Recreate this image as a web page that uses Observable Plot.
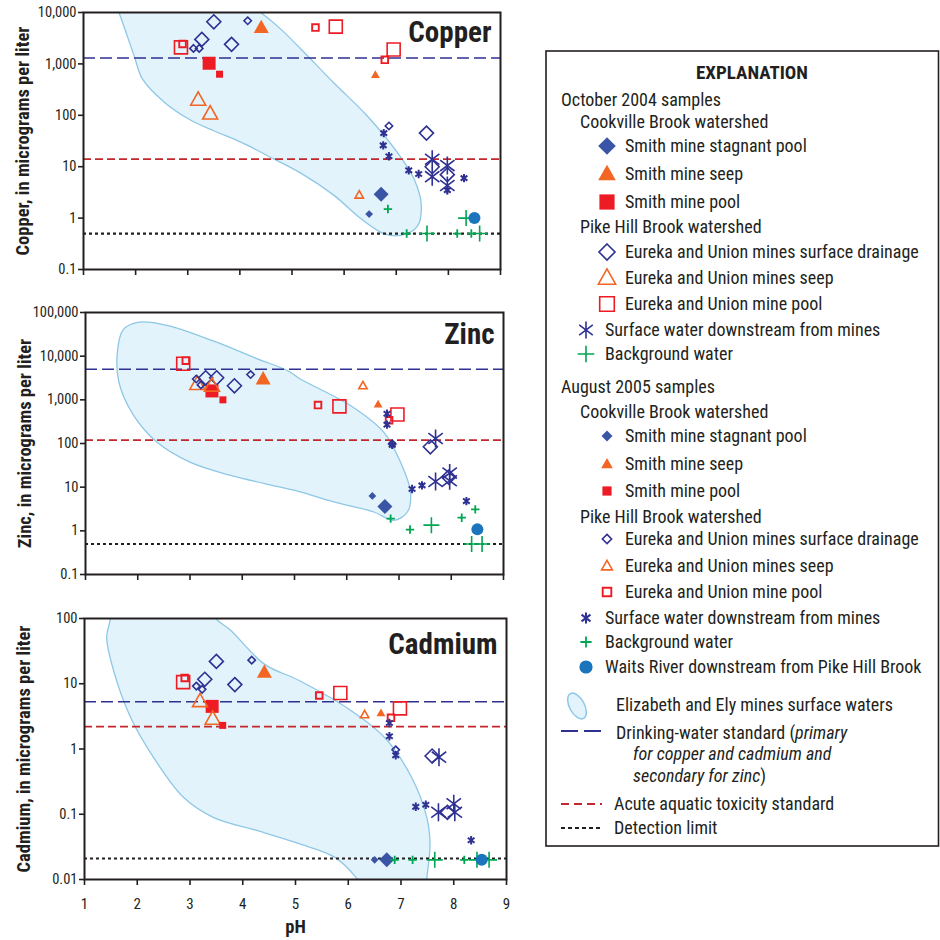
<!DOCTYPE html>
<html><head><meta charset="utf-8">
<script src="https://cdn.jsdelivr.net/npm/d3@7"></script>
<script src="https://cdn.jsdelivr.net/npm/@observablehq/plot@0.6"></script>
<style>
html,body{margin:0;padding:0;background:#fff;}
#wrap{position:relative;width:940px;height:940px;overflow:hidden;background:#fff;}
#wrap svg.panel{position:absolute;left:0;}
g[aria-label="y-axis label"] text, g[aria-label="x-axis label"] text{font-weight:bold;font-size:18.5px;}
</style></head><body><div id="wrap"></div>
<script>
// ---------------- DATA ----------------
// points: [pH, value, sample type]
const copperPoints = [
  [2.87,2100,"O-epool"],[5.84,5300,"O-epool"],[6.95,1900,"O-epool"],
  [3.27,3000,"O-drain"],[3.50,6600,"O-drain"],[3.84,2400,"O-drain"],[7.58,45,"O-drain"],[7.69,10,"O-drain"],[7.98,7,"O-drain"],
  [4.41,5100,"O-seep"],[3.41,1030,"O-pool"],
  [3.20,200,"O-eseep"],[3.43,108,"O-eseep"],
  [6.71,2.9,"O-stag"],
  [7.69,14,"O-sw"],[7.69,6.4,"O-sw"],[7.98,10.5,"O-sw"],[7.98,4.3,"O-sw"],
  [8.34,1.0,"O-bg"],[7.59,0.5,"O-bg"],[8.60,0.5,"O-bg"],
  [2.90,2450,"A-epool"],[5.45,5100,"A-epool"],[6.78,1200,"A-epool"],
  [3.11,2000,"A-drain"],[3.22,2000,"A-drain"],[4.15,6900,"A-drain"],[6.86,62,"A-drain"],
  [6.60,610,"A-seep"],[3.61,630,"A-pool"],[6.29,2.8,"A-eseep"],[6.48,1.2,"A-stag"],
  [6.76,45,"A-sw"],[6.75,26,"A-sw"],[6.86,16,"A-sw"],[7.24,8.5,"A-sw"],[7.43,7.2,"A-sw"],[7.98,3.5,"A-sw"],[8.30,6.0,"A-sw"],
  [6.84,1.5,"A-bg"],[7.20,0.5,"A-bg"],[8.17,0.5,"A-bg"],[8.44,0.5,"A-bg"],
  [8.50,1.0,"A-waits"]
];
const zincPoints = [
  [2.87,6700,"O-epool"],[5.86,710,"O-epool"],[6.97,460,"O-epool"],
  [3.30,3200,"O-drain"],[3.51,3200,"O-drain"],[3.85,2100,"O-drain"],[7.60,84,"O-drain"],[7.95,17,"O-drain"],
  [4.40,3000,"O-seep"],[3.42,1600,"O-pool"],
  [3.14,2300,"O-eseep"],[3.42,2100,"O-eseep"],
  [6.73,3.6,"O-stag"],
  [7.70,130,"O-sw"],[7.70,13.5,"O-sw"],[7.97,21,"O-sw"],[7.97,14,"O-sw"],
  [7.62,1.35,"O-bg"],[8.39,0.5,"O-bg"],[8.59,0.5,"O-bg"],
  [2.92,7900,"A-epool"],[5.45,760,"A-epool"],[6.81,340,"A-epool"],
  [3.12,3000,"A-drain"],[3.21,2200,"A-drain"],[4.16,3800,"A-drain"],[6.87,98,"A-drain"],
  [6.60,790,"A-seep"],[3.63,1000,"A-pool"],[6.31,2100,"A-eseep"],[6.49,6.3,"A-stag"],
  [6.77,480,"A-sw"],[6.77,270,"A-sw"],[6.87,93,"A-sw"],[7.25,9.1,"A-sw"],[7.44,11,"A-sw"],[8.29,4.8,"A-sw"],
  [6.84,1.9,"A-bg"],[7.21,1.07,"A-bg"],[8.20,2.0,"A-bg"],[8.46,3.1,"A-bg"],
  [8.50,1.08,"A-waits"]
];
const cadmiumPoints = [
  [2.87,10.6,"O-epool"],[5.85,7.2,"O-epool"],[6.98,4.2,"O-epool"],
  [3.28,11.7,"O-drain"],[3.50,22,"O-drain"],[3.85,9.7,"O-drain"],[7.59,0.78,"O-drain"],[7.88,0.107,"O-drain"],
  [4.41,15,"O-seep"],[3.42,4.5,"O-pool"],
  [3.19,5.4,"O-eseep"],[3.43,2.9,"O-eseep"],
  [6.73,0.02,"O-stag"],
  [7.72,0.75,"O-sw"],[7.71,0.107,"O-sw"],[8.00,0.145,"O-sw"],[8.02,0.107,"O-sw"],
  [7.64,0.02,"O-bg"],[8.44,0.02,"O-bg"],[8.67,0.02,"O-bg"],
  [2.90,12.3,"A-epool"],[5.45,6.6,"A-epool"],[6.81,3.0,"A-epool"],
  [3.12,9.2,"A-drain"],[3.23,8.2,"A-drain"],[4.17,23,"A-drain"],[6.90,0.97,"A-drain"],
  [6.62,3.55,"A-seep"],[3.62,2.3,"A-pool"],[6.31,3.35,"A-eseep"],[6.50,0.02,"A-stag"],
  [6.78,2.5,"A-sw"],[6.78,1.57,"A-sw"],[6.90,0.80,"A-sw"],[7.28,0.13,"A-sw"],[7.47,0.14,"A-sw"],[8.33,0.040,"A-sw"],
  [6.88,0.02,"A-bg"],[7.22,0.02,"A-bg"],[8.20,0.02,"A-bg"],
  [8.53,0.02,"A-waits"]
];
// Elizabeth and Ely mines surface waters envelope outlines: [pH, value]
const copperEnvelope = [[1.62,14000],[1.68,10000],[1.97,1450],[2.13,510],[2.55,180],[3.06,80],[3.5,50],[4.02,30],[4.66,14],[5.17,7.5],[5.8,2.8],[6.32,0.98],[6.76,0.5],[7.08,0.46],[7.40,0.68],[7.48,1.8],[7.34,5.8],[7.02,19],[6.44,98],[5.8,430],[5.17,1950],[4.78,4800],[4.40,10000],[4.1,16000],[3.0,22000]];
const zincEnvelope = [[2.02,60000],[2.56,51000],[3.46,22000],[4.29,8700],[4.86,4700],[5.11,3000],[6.07,740],[6.71,180],[7.03,37],[7.22,7.8],[7.16,2.7],[6.90,1.74],[6.52,2.7],[5.75,4.6],[5.11,7.8],[4.73,10],[3.78,18.6],[3.01,37],[2.37,107],[1.92,440],[1.64,2500],[1.61,12300],[1.72,40000]];
const cadmiumEnvelope = [[1.47,200],[1.49,100],[1.42,52],[1.55,16],[1.87,3.1],[2.31,0.74],[2.88,0.18],[3.45,0.089],[4.28,0.056],[5.04,0.036],[5.74,0.022],[6.15,0.0107],[6.35,0.006],[7.45,0.006],[7.49,0.0107],[7.55,0.035],[7.49,0.089],[7.20,0.37],[6.69,1.5],[6.05,3.9],[5.07,11.2],[4.41,20],[3.77,66],[3.49,100],[3.3,200]];
// standards: [drinking-water, acute aquatic toxicity, detection limit]
const copperStandards = [1300, 14, 0.5];
const zincStandards = [5000, 120, 0.5];
const cadmiumStandards = [5.3, 2.2, 0.021];
const copperTicks = [0.1, 1, 10, 100, 1000, 10000];
const zincTicks = [0.1, 1, 10, 100, 1000, 10000, 100000];
const cadmiumTicks = [0.01, 0.1, 1, 10, 100];
const phTicks = [1, 2, 3, 4, 5, 6, 7, 8, 9];

const legendTitle = "EXPLANATION";
const legendHeads = ["October 2004 samples","Cookville Brook watershed","Pike Hill Brook watershed","August 2005 samples","Cookville Brook watershed","Pike Hill Brook watershed"];
const legendTypes = ["O-stag","O-seep","O-pool","O-drain","O-eseep","O-epool","O-sw","O-bg","A-stag","A-seep","A-pool","A-drain","A-eseep","A-epool","A-sw","A-bg","A-waits"];
const legendLabels = ["Smith mine stagnant pool","Smith mine seep","Smith mine pool","Eureka and Union mines surface drainage","Eureka and Union mines seep","Eureka and Union mine pool","Surface water downstream from mines","Background water","Smith mine stagnant pool","Smith mine seep","Smith mine pool","Eureka and Union mines surface drainage","Eureka and Union mines seep","Eureka and Union mine pool","Surface water downstream from mines","Background water","Waits River downstream from Pike Hill Brook"];

// ---------------- STYLE ----------------
const FONT = '"Liberation Sans Narrow","Arial Narrow","Roboto Condensed","DejaVu Sans Condensed",Roboto,sans-serif';
const INK = "#231f20";
const NAVY = "#2e3192", BLUEFILL = "#3a55a5", ORANGE = "#f26522", RED = "#ed1c24", GREEN = "#00a651", WAITS = "#1b75bc";
const rad = s => Math.sqrt(s / Math.PI);
const symDiamond = {draw(c, s){const r = rad(s); c.moveTo(0,-r); c.lineTo(r,0); c.lineTo(0,r); c.lineTo(-r,0); c.closePath();}};
const symTriangle = {draw(c, s){const r = rad(s); c.moveTo(0,-r*1.05); c.lineTo(r,r*0.72); c.lineTo(-r,r*0.72); c.closePath();}};
const symSquare = {draw(c, s){const r = rad(s); c.moveTo(-r,-r); c.lineTo(r,-r); c.lineTo(r,r); c.lineTo(-r,r); c.closePath();}};
const symAsterisk = {draw(c, s){const r = rad(s); c.moveTo(0,-r); c.lineTo(0,r); c.moveTo(-0.8*r,-0.6*r); c.lineTo(0.8*r,0.6*r); c.moveTo(-0.8*r,0.6*r); c.lineTo(0.8*r,-0.6*r);}};
const symPlus = {draw(c, s){const r = rad(s); c.moveTo(-r,0); c.lineTo(r,0); c.moveTo(0,-r); c.lineTo(0,r);}};
const symCircle = {draw(c, s){const r = rad(s); c.moveTo(r,0); c.arc(0,0,r,0,2*Math.PI);}};

const typeStyle = {
  "O-stag":  {symbol: symDiamond, r: 7.5, lr: 8.8, fill: BLUEFILL, stroke: "none", sw: 0},
  "O-seep":  {symbol: symTriangle, r: 7.5, lr: 8.8, fill: ORANGE, stroke: "none", sw: 0},
  "O-pool":  {symbol: symSquare, r: 6.5, lr: 7.6, fill: RED, stroke: "none", sw: 0},
  "O-drain": {symbol: symDiamond, r: 7, lr: 8, fill: "none", stroke: NAVY, sw: 1.6},
  "O-eseep": {symbol: symTriangle, r: 7.5, lr: 8.6, fill: "none", stroke: ORANGE, sw: 1.6},
  "O-epool": {symbol: symSquare, r: 6.5, lr: 7.3, fill: "none", stroke: RED, sw: 1.6},
  "O-sw":    {symbol: symAsterisk, r: 9, lr: 8.5, fill: "none", stroke: NAVY, sw: 1.6},
  "O-bg":    {symbol: symPlus, r: 8, lr: 8.3, fill: "none", stroke: GREEN, sw: 1.6},
  "A-stag":  {symbol: symDiamond, r: 3.9, lr: 5.5, fill: BLUEFILL, stroke: "none", sw: 0},
  "A-seep":  {symbol: symTriangle, r: 4.4, lr: 5.8, fill: ORANGE, stroke: "none", sw: 0},
  "A-pool":  {symbol: symSquare, r: 3.5, lr: 4.6, fill: RED, stroke: "none", sw: 0},
  "A-drain": {symbol: symDiamond, r: 3.7, lr: 4.6, fill: "none", stroke: NAVY, sw: 1.6},
  "A-eseep": {symbol: symTriangle, r: 4.2, lr: 5.4, fill: "none", stroke: ORANGE, sw: 1.6},
  "A-epool": {symbol: symSquare, r: 3.3, lr: 4.3, fill: "none", stroke: RED, sw: 1.9},
  "A-sw":    {symbol: symAsterisk, r: 4.2, lr: 5.6, fill: "none", stroke: NAVY, sw: 2},
  "A-bg":    {symbol: symPlus, r: 4.2, lr: 5.6, fill: "none", stroke: GREEN, sw: 1.8},
  "A-waits": {symbol: symCircle, r: 6, lr: 6.6, fill: WAITS, stroke: "none", sw: 0}
};
const drawOrder = ["O-stag","O-seep","O-pool","O-drain","O-eseep","O-epool","O-sw","O-bg","A-stag","A-seep","A-pool","A-drain","A-eseep","A-epool","A-sw","A-bg","A-waits"];
const fmt = d => d >= 1 ? d3.format(",")(d) : String(d);

function panel(o) {
  const marks = [
    Plot.line(o.envelope, {x: d => d[0], y: d => d[1], curve: "catmull-rom-closed", fill: "#e2f3fb", stroke: "#8ec7e6", strokeWidth: 1.3, clip: true}),
    Plot.ruleY([o.standards[0]], {stroke: NAVY, strokeWidth: 1.6, strokeDasharray: "12,5"}),
    Plot.ruleY([o.standards[1]], {stroke: "#c1272d", strokeWidth: 1.8, strokeDasharray: "8,4"}),
    Plot.ruleY([o.standards[2]], {stroke: INK, strokeWidth: 2.2, strokeDasharray: "3,3"})
  ];
  for (const k of drawOrder) {
    const st = typeStyle[k];
    marks.push(Plot.dot(o.points.filter(d => d[2] === k), {x: d => d[0], y: d => d[1], symbol: st.symbol, r: st.r, fill: st.fill, stroke: st.stroke, strokeWidth: st.sw}));
  }
  marks.push(
    Plot.axisX({ticks: phTicks, tickSize: 6, tickPadding: 13, fontSize: 15, tickFormat: o.showX ? d => String(d) : () => "", label: o.showX ? "pH" : null, labelAnchor: "center", labelOffset: 53, labelArrow: false, stroke: INK, strokeWidth: 1.6}),
    Plot.axisY({ticks: o.ticks, tickSize: 5, tickPadding: 2, fontSize: 14.5, tickFormat: fmt, label: o.label, labelAnchor: "center", labelOffset: 68, labelArrow: false, stroke: INK, strokeWidth: 1.6}),
    Plot.frame({stroke: INK, strokeWidth: 2}),
    Plot.text([o.title], {text: d => d, frameAnchor: "top-right", dx: -9, dy: o.titleDy, lineAnchor: "middle", textAnchor: "end", fontSize: 29, fontWeight: "bold", fill: INK})
  );
  const svg = Plot.plot({
    width: 520, height: o.height,
    marginLeft: o.ml, marginRight: 520 - o.xr, marginTop: o.mt, marginBottom: o.mb,
    style: {fontFamily: FONT, fontSize: "15px", color: INK, background: "transparent", overflow: "visible"},
    x: {domain: [1, 9]},
    y: {type: "log", domain: o.domain},
    marks
  });
  svg.classList.add("panel");
  svg.style.top = o.top + "px";
  return svg;
}

const wrap = document.getElementById("wrap");
wrap.appendChild(panel({title: "Copper", points: copperPoints, envelope: copperEnvelope, standards: copperStandards, ticks: copperTicks, domain: [0.1, 10000], label: "Copper, in micrograms per liter", top: 0, height: 290, mt: 12, mb: 21, ml: 83, xr: 500, titleDy: 20, showX: false}));
wrap.appendChild(panel({title: "Zinc", points: zincPoints, envelope: zincEnvelope, standards: zincStandards, ticks: zincTicks, domain: [0.1, 100000], label: "Zinc, in micrograms per liter", top: 290, height: 300, mt: 22, mb: 16, ml: 85, xr: 503, titleDy: 22, showX: false}));
wrap.appendChild(panel({title: "Cadmium", points: cadmiumPoints, envelope: cadmiumEnvelope, standards: cadmiumStandards, ticks: cadmiumTicks, domain: [0.01, 100], label: "Cadmium, in micrograms per liter", top: 590, height: 350, mt: 28, mb: 61, ml: 84, xr: 506, titleDy: 26, showX: true}));

// ---------------- LEGEND ----------------
const lg = d3.select(wrap).append("svg").attr("width", 940).attr("height", 940)
  .style("position", "absolute").style("left", "0px").style("top", "0px")
  .style("font-family", FONT).style("fill", INK);
lg.append("rect").attr("x", 546).attr("y", 51).attr("width", 392.5).attr("height", 795).attr("fill", "none").attr("stroke", INK).attr("stroke-width", 1.6);
lg.append("text").attr("x", 752).attr("y", 72).attr("text-anchor", "middle").attr("dy", "0.35em").attr("font-size", 19).attr("font-weight", "bold").text(legendTitle);
const headX = [561, 580, 580, 561, 580, 580];
const headY = [100, 122, 227, 387, 412, 517];
legendHeads.forEach((t, i) => lg.append("text").attr("x", headX[i]).attr("y", headY[i]).attr("dy", "0.35em").attr("font-size", 18).text(t));
const itemY = [146, 174, 202, 252, 278, 304, 330, 354, 436, 464, 491, 539, 566, 592, 618, 642, 667];
legendTypes.forEach((k, i) => {
  const st = typeStyle[k];
  const outer = /sw|bg|waits/.test(k);
  const mx = outer ? 586 : 607, tx = outer ? 605 : 625;
  lg.append("path").attr("transform", `translate(${mx},${itemY[i]})`)
    .attr("d", d3.symbol(st.symbol, Math.PI * st.lr * st.lr)())
    .attr("fill", st.fill).attr("stroke", st.stroke).attr("stroke-width", st.sw);
  lg.append("text").attr("x", tx).attr("y", itemY[i]).attr("dy", "0.35em").attr("font-size", 18).text(legendLabels[i]);
});
// envelope symbol
lg.append("ellipse").attr("cx", 577).attr("cy", 706).attr("rx", 7.5).attr("ry", 14).attr("transform", "rotate(-28,577,706)")
  .attr("fill", "#e2f3fb").attr("stroke", "#8ec7e6").attr("stroke-width", 1.5);
lg.append("text").attr("x", 616).attr("y", 705).attr("dy", "0.35em").attr("font-size", 18).text("Elizabeth and Ely mines surface waters");
// lines
lg.append("line").attr("x1", 561).attr("x2", 602).attr("y1", 731).attr("y2", 731).attr("stroke", NAVY).attr("stroke-width", 1.8).attr("stroke-dasharray", "17,6");
const dw = lg.append("text").attr("x", 616).attr("y", 733).attr("dy", "0.35em").attr("font-size", 18);
dw.append("tspan").text("Drinking-water standard (");
dw.append("tspan").attr("font-style", "italic").text("primary");
lg.append("text").attr("x", 633).attr("y", 754).attr("dy", "0.35em").attr("font-size", 18).attr("font-style", "italic").text("for copper and cadmium and");
const dw3 = lg.append("text").attr("x", 633).attr("y", 776).attr("dy", "0.35em").attr("font-size", 18);
dw3.append("tspan").attr("font-style", "italic").text("secondary for zinc");
dw3.append("tspan").text(")");
lg.append("line").attr("x1", 561).attr("x2", 602).attr("y1", 804).attr("y2", 804).attr("stroke", "#c1272d").attr("stroke-width", 1.8).attr("stroke-dasharray", "8,5");
lg.append("text").attr("x", 614).attr("y", 804).attr("dy", "0.35em").attr("font-size", 18).text("Acute aquatic toxicity standard");
lg.append("line").attr("x1", 561).attr("x2", 602).attr("y1", 828).attr("y2", 828).attr("stroke", INK).attr("stroke-width", 2).attr("stroke-dasharray", "4,3");
lg.append("text").attr("x", 614).attr("y", 828).attr("dy", "0.35em").attr("font-size", 18).text("Detection limit");
</script></body></html>
